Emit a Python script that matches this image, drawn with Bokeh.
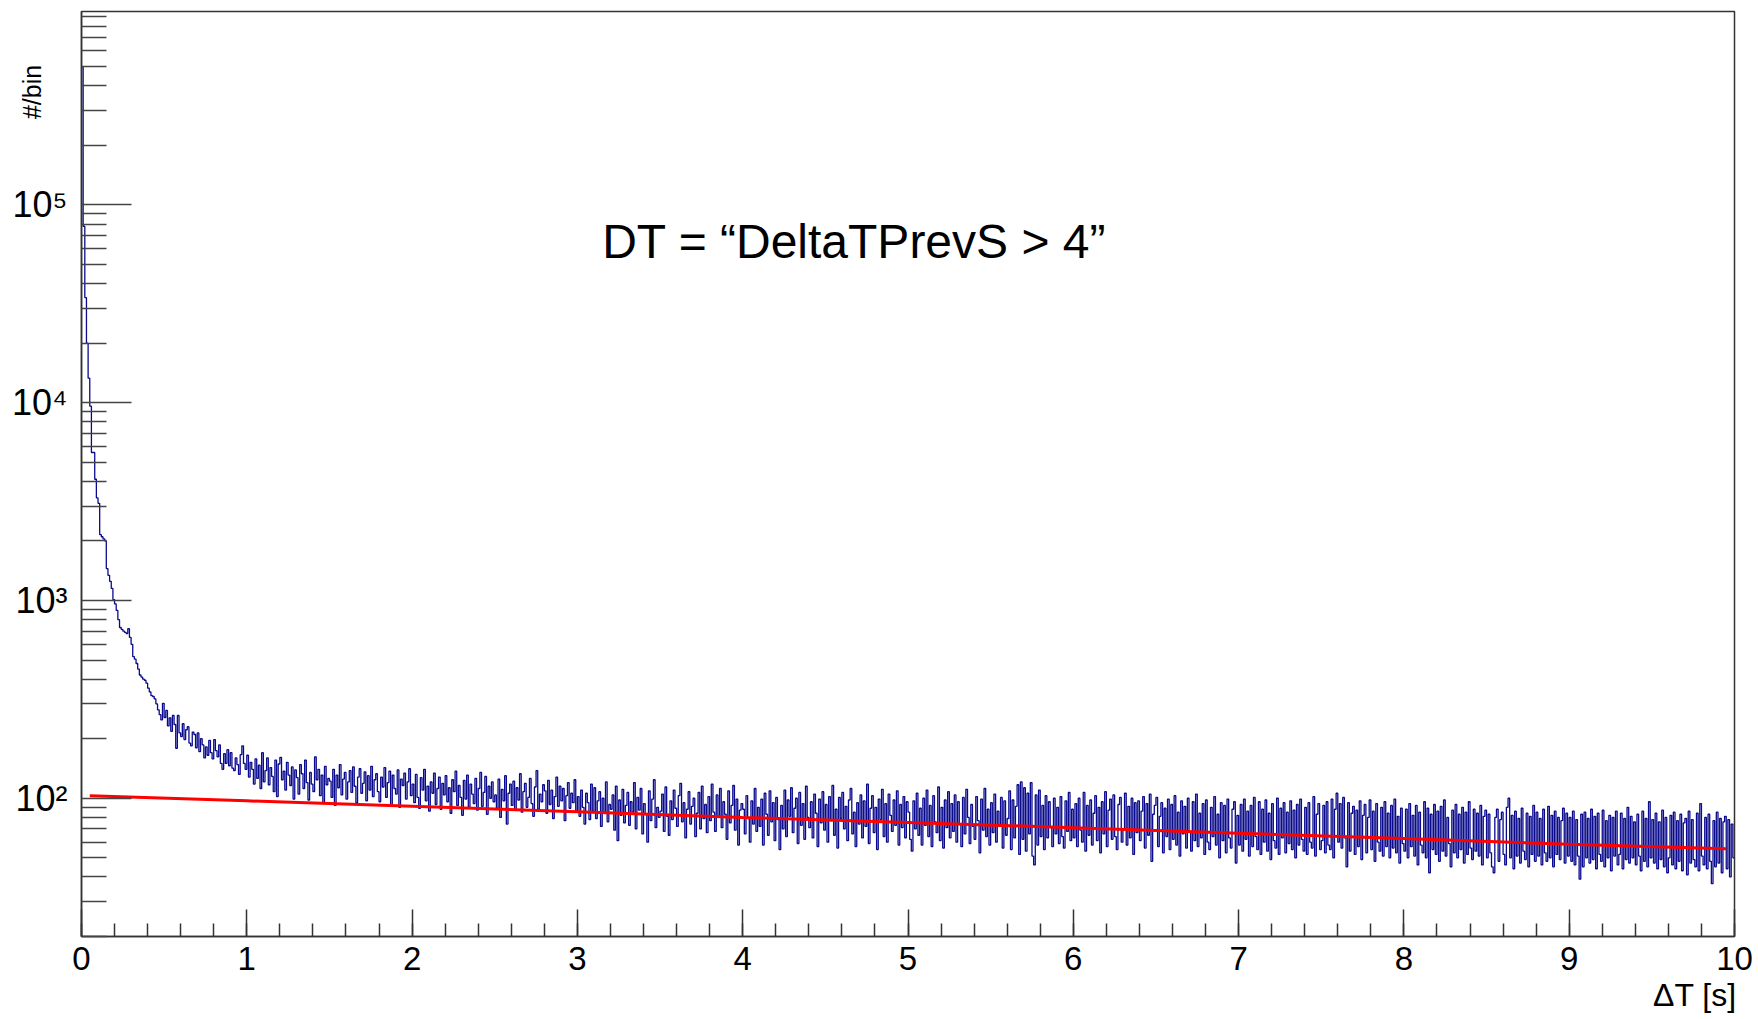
import numpy as np
from bokeh.plotting import figure
from bokeh.models import (ColumnDataSource, Range1d, FixedTicker,
                          SingleIntervalTicker, Label)
from bokeh.embed import file_html
from bokeh.resources import INLINE

# ---------------- data ----------------
x_min, x_max = 0.0, 10.0
y_min, y_max = 20, 9.5e5

counts_0s = [500000, 78000, 34000, 20000, 13300, 9600, 5600, 5600, 4100, 3300,
             3100, 2150, 2100, 2050, 2000, 1450, 1340, 1250, 1150, 1010,
             960, 890, 800, 730, 715, 700, 690, 680, 720, 650,
             600, 520, 505, 480, 450, 420, 410, 400, 395, 382,
             360, 345, 330, 327, 318, 300, 280, 265, 249, 302,
             256, 278, 232, 255, 218, 262, 236, 179, 262, 214,
             205, 238, 198, 222, 230, 190, 184, 216, 210, 180,
             214, 172, 200, 186, 160, 182, 165, 196, 170, 158,
             198, 174, 162, 186, 150, 140, 168, 150, 176, 146,
             170, 142, 138, 160, 148, 132, 166, 184, 150, 140]
counts_1s = [165, 128, 152, 140, 118, 158, 126, 147, 112, 170,
             121, 138, 160, 117, 143, 129, 108, 156, 102, 149,
             161, 124, 137, 110, 152, 131, 116, 144, 99, 139,
             127, 105, 148, 133, 112, 156, 120, 98, 135, 118,
             108, 162, 124, 140, 103, 131, 94, 145, 117, 126,
             122, 101, 140, 92, 131, 113, 148, 104, 125, 135,
             99, 121, 138, 107, 144, 115, 95, 128, 141, 106,
             119, 136, 97, 130, 110, 145, 102, 124, 133, 108,
             96, 128, 114, 143, 101, 120, 137, 92, 131, 112,
             105, 139, 90, 125, 116, 134, 99, 121, 141, 103]
counts_2s = [118, 95, 132, 101, 89, 127, 110, 140, 97, 115,
             86, 121, 106, 134, 93, 112, 128, 88, 119, 104,
             130, 96, 113, 84, 124, 108, 137, 92, 116, 101,
             82, 123, 99, 131, 90, 118, 105, 94, 126, 87,
             112, 135, 91, 107, 129, 83, 115, 100, 121, 96,
             104, 89, 125, 80, 111, 97, 130, 74, 106, 118,
             92, 122, 87, 113, 98, 133, 85, 108, 119, 90,
             101, 126, 94, 81, 114, 138, 88, 105, 96, 117,
             109, 84, 123, 93, 110, 79, 102, 128, 91, 115,
             97, 112, 77, 103, 120, 89, 106, 95, 124, 86]
counts_3s = [102, 81, 110, 90, 74, 106, 95, 78, 118, 86,
             113, 79, 97, 108, 72, 100, 84, 121, 76, 93,
             88, 104, 69, 115, 61, 98, 82, 111, 75, 92,
             107, 73, 96, 85, 120, 70, 101, 87, 112, 66,
             94, 83, 60, 109, 77, 99, 124, 71, 90, 80,
             86, 105, 68, 114, 81, 65, 97, 78, 110, 89,
             72, 103, 119, 76, 95, 63, 88, 108, 74, 91,
             100, 64, 84, 107, 70, 115, 79, 93, 67, 102,
             77, 118, 85, 68, 104, 80, 112, 71, 96, 83,
             62, 109, 75, 92, 116, 69, 99, 58, 87, 94]
counts_4s = [88, 66, 103, 79, 60, 97, 74, 112, 68, 90,
             72, 99, 58, 106, 83, 65, 109, 76, 95, 61,
             101, 78, 55, 92, 70, 110, 64, 98, 81, 113,
             67, 89, 100, 59, 107, 73, 94, 62, 115, 80,
             71, 96, 63, 105, 84, 57, 99, 75, 108, 69,
             93, 60, 102, 77, 116, 65, 88, 56, 101, 79,
             107, 70, 91, 61, 98, 112, 66, 85, 57, 95,
             74, 104, 63, 97, 72, 118, 59, 89, 103, 67,
             90, 55, 99, 78, 111, 64, 94, 60, 105, 82,
             68, 98, 73, 109, 58, 93, 71, 102, 63, 96]
counts_5s = [85, 62, 54, 97, 70, 106, 65, 89, 58, 100,
             73, 110, 64, 92, 57, 103, 76, 67, 114, 61,
             90, 56, 98, 71, 108, 63, 94, 68, 104, 60,
             96, 74, 57, 101, 66, 111, 80, 59, 93, 72,
             62, 102, 77, 53, 99, 69, 112, 64, 88, 58,
             95, 67, 105, 60, 86, 72, 101, 56, 97, 65,
             79, 109, 55, 98, 63, 91, 117, 52, 121, 62,
             113, 54, 106, 66, 120, 51, 46, 104, 58, 110,
             64, 92, 55, 103, 63, 96, 71, 57, 100, 66,
             90, 59, 102, 64, 56, 97, 68, 107, 61, 88]
counts_6s = [63, 94, 57, 100, 69, 60, 107, 54, 92, 65,
             98, 58, 84, 103, 61, 90, 53, 96, 66, 108,
             57, 87, 99, 62, 104, 64, 55, 93, 101, 60,
             70, 106, 58, 91, 63, 100, 52, 95, 67, 97,
             61, 86, 102, 56, 94, 65, 105, 48, 83, 92,
             101, 57, 81, 95, 53, 89, 64, 99, 55, 93,
             62, 103, 58, 85, 51, 97, 66, 91, 56, 100,
             68, 54, 96, 61, 105, 57, 84, 63, 94, 52,
             98, 60, 55, 90, 64, 102, 58, 83, 50, 95,
             61, 92, 53, 99, 63, 56, 88, 96, 47, 82]
counts_7s = [58, 93, 54, 99, 62, 86, 51, 92, 57, 101,
             64, 55, 96, 52, 88, 60, 98, 54, 84, 49,
             94, 61, 56, 100, 52, 89, 63, 95, 53, 85,
             59, 97, 55, 87, 50, 93, 58, 99, 62, 54,
             90, 52, 95, 60, 56, 102, 51, 83, 94, 55,
             61, 92, 53, 96, 58, 55, 99, 50, 88, 106,
             60, 94, 56, 101, 63, 45, 95, 54, 84, 91,
             52, 87, 57, 97, 49, 82, 93, 53, 80, 98,
             55, 86, 48, 94, 60, 54, 90, 51, 96, 57,
             84, 50, 92, 56, 99, 53, 81, 47, 89, 59]
counts_8s = [54, 88, 50, 94, 57, 82, 51, 92, 46, 85,
             58, 53, 96, 50, 89, 42, 83, 55, 93, 52,
             86, 48, 91, 54, 98, 51, 80, 59, 45, 87,
             53, 93, 50, 83, 55, 90, 47, 85, 52, 96,
             56, 49, 88, 54, 84, 51, 92, 46, 81, 87,
             50, 83, 53, 45, 42, 80, 88, 48, 78, 85,
             52, 46, 90, 100, 50, 82, 44, 86, 51, 79,
             47, 89, 54, 49, 84, 45, 81, 52, 92, 48,
             85, 51, 79, 46, 88, 53, 48, 91, 50, 82,
             45, 86, 52, 80, 49, 77, 89, 47, 84, 51]
counts_9s = [80, 48, 86, 46, 78, 51, 39, 83, 45, 85,
             50, 79, 47, 88, 49, 81, 44, 84, 52, 48,
             87, 45, 77, 50, 82, 43, 80, 51, 86, 46,
             52, 84, 44, 79, 49, 90, 47, 81, 50, 76,
             46, 83, 51, 43, 86, 48, 79, 45, 96, 50,
             78, 47, 84, 44, 76, 49, 87, 45, 80, 42,
             50, 82, 46, 85, 44, 77, 48, 83, 43, 75,
             79, 41, 86, 47, 78, 49, 45, 84, 43, 94,
             51, 46, 80, 44, 83, 48, 37, 77, 45, 85,
             47, 79, 42, 76, 81, 44, 78, 40, 74, 50]

# fit curve, read at a few abscissae
fit_t = [0.05, 1, 2, 3, 4, 5, 6, 7, 8, 9, 9.95]
fit_v = [103, 97, 91, 85.5, 80, 75.5, 71, 66.5, 62.5, 58.5, 55.5]

y_ticks = [1e2, 1e3, 1e4, 1e5]
y_tick_labels = ["10\u00b2", "10\u00b3", "10\u2074", "10\u2075"]
x_label = "\u0394T [s]"
y_label = "#/bin"
note_text = "DT = \u201cDeltaTPrevS > 4\u201d"
note_x, note_y = 3.15, 6.5e4

# ---------------- build ----------------
counts = (counts_0s + counts_1s + counts_2s + counts_3s + counts_4s +
          counts_5s + counts_6s + counts_7s + counts_8s + counts_9s)
n_bins = len(counts)
edges = np.linspace(x_min, x_max, n_bins + 1)
hist_src = ColumnDataSource(dict(x=edges, y=counts + [counts[-1]]))
fit_src = ColumnDataSource(dict(x=fit_t, y=fit_v))

W, H = 1758, 1019
FONT = "Liberation Sans"
NBSP = "\u00a0"
p = figure(width=W, height=H, y_axis_type="log",
           x_range=Range1d(x_min, x_max), y_range=Range1d(y_min, y_max),
           output_backend="svg", toolbar_location=None,
           min_border_left=81, min_border_right=24,
           min_border_top=11, min_border_bottom=83)
p.background_fill_color = "white"
p.border_fill_color = "white"
p.outline_line_color = "#333333"
p.outline_line_width = 1.5
p.xgrid.visible = False
p.ygrid.visible = False

p.step(x="x", y="y", source=hist_src, mode="after",
       line_color="#0a0a8c", line_width=1.3)
p.line(x="x", y="y", source=fit_src, line_color="#ff0000", line_width=3)

# x axis
xa = p.xaxis[0]
xa.ticker = SingleIntervalTicker(interval=1, num_minor_ticks=5)
xa.major_tick_in = 27
xa.major_tick_out = 0
xa.minor_tick_in = 13
xa.minor_tick_out = 0
xa.major_tick_line_color = "#333333"
xa.minor_tick_line_color = "#333333"
xa.major_tick_line_width = 1.5
xa.minor_tick_line_width = 1.5
xa.axis_line_color = "#333333"
xa.axis_line_width = 1.5
xa.major_label_text_font = FONT
xa.major_label_text_font_size = "33px"
xa.major_label_text_color = "black"
xa.major_label_standoff = 10
# axis title sits at the right end: leading no-break spaces push it right
xa.axis_label = NBSP * 177 + x_label
xa.axis_label_align = "center"
xa.axis_label_standoff = 4
xa.axis_label_text_font = FONT
xa.axis_label_text_font_style = "normal"
xa.axis_label_text_font_size = "32px"
xa.axis_label_text_color = "black"

# y axis
minor = [m * 10.0 ** e for e in range(1, 6) for m in range(2, 10)]
ya = p.yaxis[0]
ya.ticker = FixedTicker(ticks=y_ticks, minor_ticks=minor)
ya.major_label_overrides = {t: lab for t, lab in zip(y_ticks, y_tick_labels)}
ya.major_tick_in = 50
ya.major_tick_out = 0
ya.minor_tick_in = 25
ya.minor_tick_out = 0
ya.major_tick_line_color = "#444444"
ya.minor_tick_line_color = "#444444"
ya.major_tick_line_width = 1.5
ya.minor_tick_line_width = 1.5
ya.axis_line_color = "#333333"
ya.axis_line_width = 1.5
ya.major_label_text_font = FONT
ya.major_label_text_font_size = "36px"
ya.major_label_text_color = "black"
ya.major_label_standoff = 14
# label sits near the top end of the axis: leading no-break spaces push it up
ya.axis_label = NBSP * 110 + y_label
ya.axis_label_align = "center"
ya.axis_label_standoff = -37
ya.axis_label_text_font = FONT
ya.axis_label_text_font_style = "normal"
ya.axis_label_text_font_size = "25px"
ya.axis_label_text_color = "black"

p.add_layout(Label(x=note_x, y=note_y, text=note_text, text_align="left",
                   text_baseline="middle", text_font=FONT,
                   text_font_size="48px", text_color="black"))

open("out.html", "w").write(file_html(p, INLINE))
